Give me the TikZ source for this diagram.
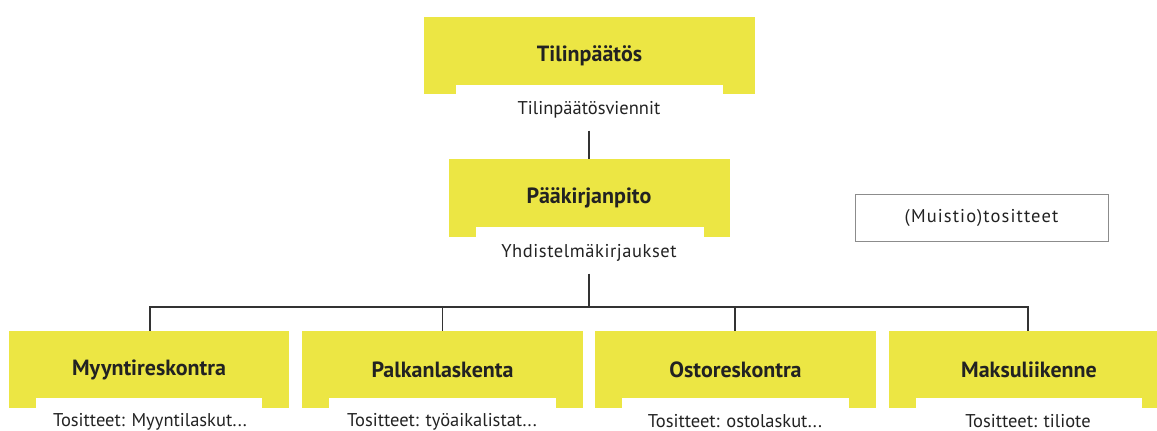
\documentclass[tikz,border=0pt]{standalone}
\usepackage{fontspec}
\setmainfont{PT Sans}
\definecolor{ylw}{RGB}{236,230,68}
\definecolor{ink}{RGB}{34,34,34}
\definecolor{linec}{RGB}{51,51,51}
\definecolor{framec}{RGB}{140,140,140}
\begin{document}
\begin{tikzpicture}[x=1pt,y=-1pt,
  ybox/.style={fill=ylw, draw=none, minimum width=#1, minimum height=77pt, inner sep=0pt,
    font=\bfseries\fontsize{22}{26}\selectfont, text=ink},
  sublabel/.style={inner sep=0pt, font=\fontsize{18.5}{22}\selectfont, text=ink},
  conn/.style={draw=linec, line width=1.2pt},
  notchfill/.style={fill=white},
  memo/.style={draw=framec, line width=0.8pt, minimum width=253pt, minimum height=47pt, inner sep=0pt,
    font=\fontsize{18.5}{22}\selectfont\addfontfeatures{LetterSpace=6}, text=ink}]
\useasboundingbox (0,0) rectangle (1157,431);
\clip (0,0) rectangle (1157,431);
% top box
\node[ybox=331pt] (tp) at (589.5,55.5) {Tilinpäätös};
\fill[notchfill] ([xshift=32pt]tp.south west) rectangle ([xshift=-32pt,yshift=9pt]tp.south east);
\node[sublabel] (tpl) at (589,110) {Tilinpäätösviennit};
% main ledger
\node[ybox=281pt, minimum height=78pt] (pk) at (589,198) {Pääkirjanpito};
\fill[notchfill] ([xshift=28pt]pk.south west) rectangle ([xshift=-26pt,yshift=10pt]pk.south east);
\node[sublabel] (pkl) at (589,253) {\addfontfeatures{LetterSpace=3}Yhdistelmäkirjaukset};
% memo box
\node[memo] (mu) at (981.5,217.5) {(Muistio)tositteet};
% bottom boxes
\node[ybox=280pt] (b1) at (149,369.5) {Myyntireskontra};
\node[ybox=281pt] (b2) at (442.5,369.5) {Palkanlaskenta};
\node[ybox=281pt] (b3) at (735.5,369.5) {Ostoreskontra};
\node[ybox=280pt] (b4) at (1029,369.5) {Maksuliikenne};
\foreach \b in {b1,b2,b3,b4}{
  \fill[notchfill] ([xshift=27pt]\b.south west) rectangle ([xshift=-27pt,yshift=10pt]\b.south east);
}
\node[sublabel] (b1l) at (150,421.5) {Tositteet: Myyntilaskut...};
\node[sublabel] (b2l) at (442,421.5) {Tositteet: työaikalistat...};
\node[sublabel] (b3l) at (735,421.5) {Tositteet: ostolaskut...};
\node[sublabel] (b4l) at (1028,421.5) {Tositteet: tiliote};
% connectors
\coordinate (hub) at (589,307);
\draw[conn, shorten <=12pt] (tpl.south) -- (pk.north);
\draw[conn, shorten <=12pt] (pkl.south) -- (hub);
\draw[conn] (hub) -| ([xshift=1pt]b1.north);
\draw[conn] (hub) -| (b2.north);
\draw[conn] (hub) -| ([xshift=-0.5pt]b3.north);
\draw[conn] (hub) -| ([xshift=-1pt]b4.north);
\end{tikzpicture}
\end{document}
